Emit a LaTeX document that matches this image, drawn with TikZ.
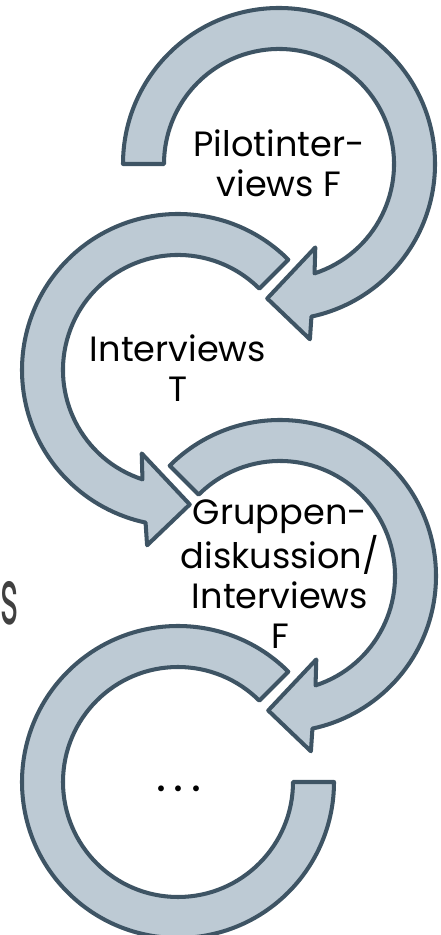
\documentclass[tikz,border=0pt]{standalone}
\usepackage{fontspec}
\setmainfont{Poppins}
\definecolor{arrowfill}{RGB}{189,202,212}
\definecolor{arrowline}{RGB}{62,84,100}
\definecolor{titlegray}{RGB}{64,64,64}
\tikzset{
arrowband/.style={fill=arrowfill, draw=arrowline, line width=2.3pt, line join=round},
cycletext/.style={align=center, inner sep=0pt, font=\fontsize{20}{22.7}\selectfont},
pics/cwarrow/.style={code={
  \draw[arrowband] (#1:156) arc[start angle=#1, end angle=-78, radius=156]
    -- (-80:178) -- (-95:135) -- (-66.5:91) -- (-72:115)
    arc[start angle=-72, end angle=#1, radius=115] -- cycle;
  }},
pics/openarc/.style={code={
  \draw[arrowband] (#1:156) arc[start angle=#1, end angle=360, radius=156]
    -- (0:115) arc[start angle=360, end angle=#1, radius=115] -- cycle;
  }}
}

\begin{document}
\begin{tikzpicture}[x=0.02cm, y=0.02cm]
\useasboundingbox (0,0) rectangle (440,935);
  \pic at (279,771) {cwarrow=180};
  \pic[xscale=-1] at (178,565) {cwarrow=135};
  \pic at (280,359) {cwarrow=135};
  \pic at (178,153) {openarc=45};
\node[cycletext] (pilot) at (279,772) {Pilotinter-\\views F};
\node[cycletext] (interviews) at (178,567) {Interviews\\T};
\node[cycletext] (gruppen) at (280,361) {Gruppen-\\diskussion/\\Interviews\\F};
\node[cycletext, font=\fontsize{27}{30}\selectfont] (more) at (179,146) {.\kern4.4pt.\kern4.4pt.};
\node[anchor=base west, inner sep=0pt, text=titlegray, font=\fontsize{44}{50}\selectfont] (title) at (0,310) {\scalebox{0.45}[1]{s}};
\end{tikzpicture}
\end{document}
